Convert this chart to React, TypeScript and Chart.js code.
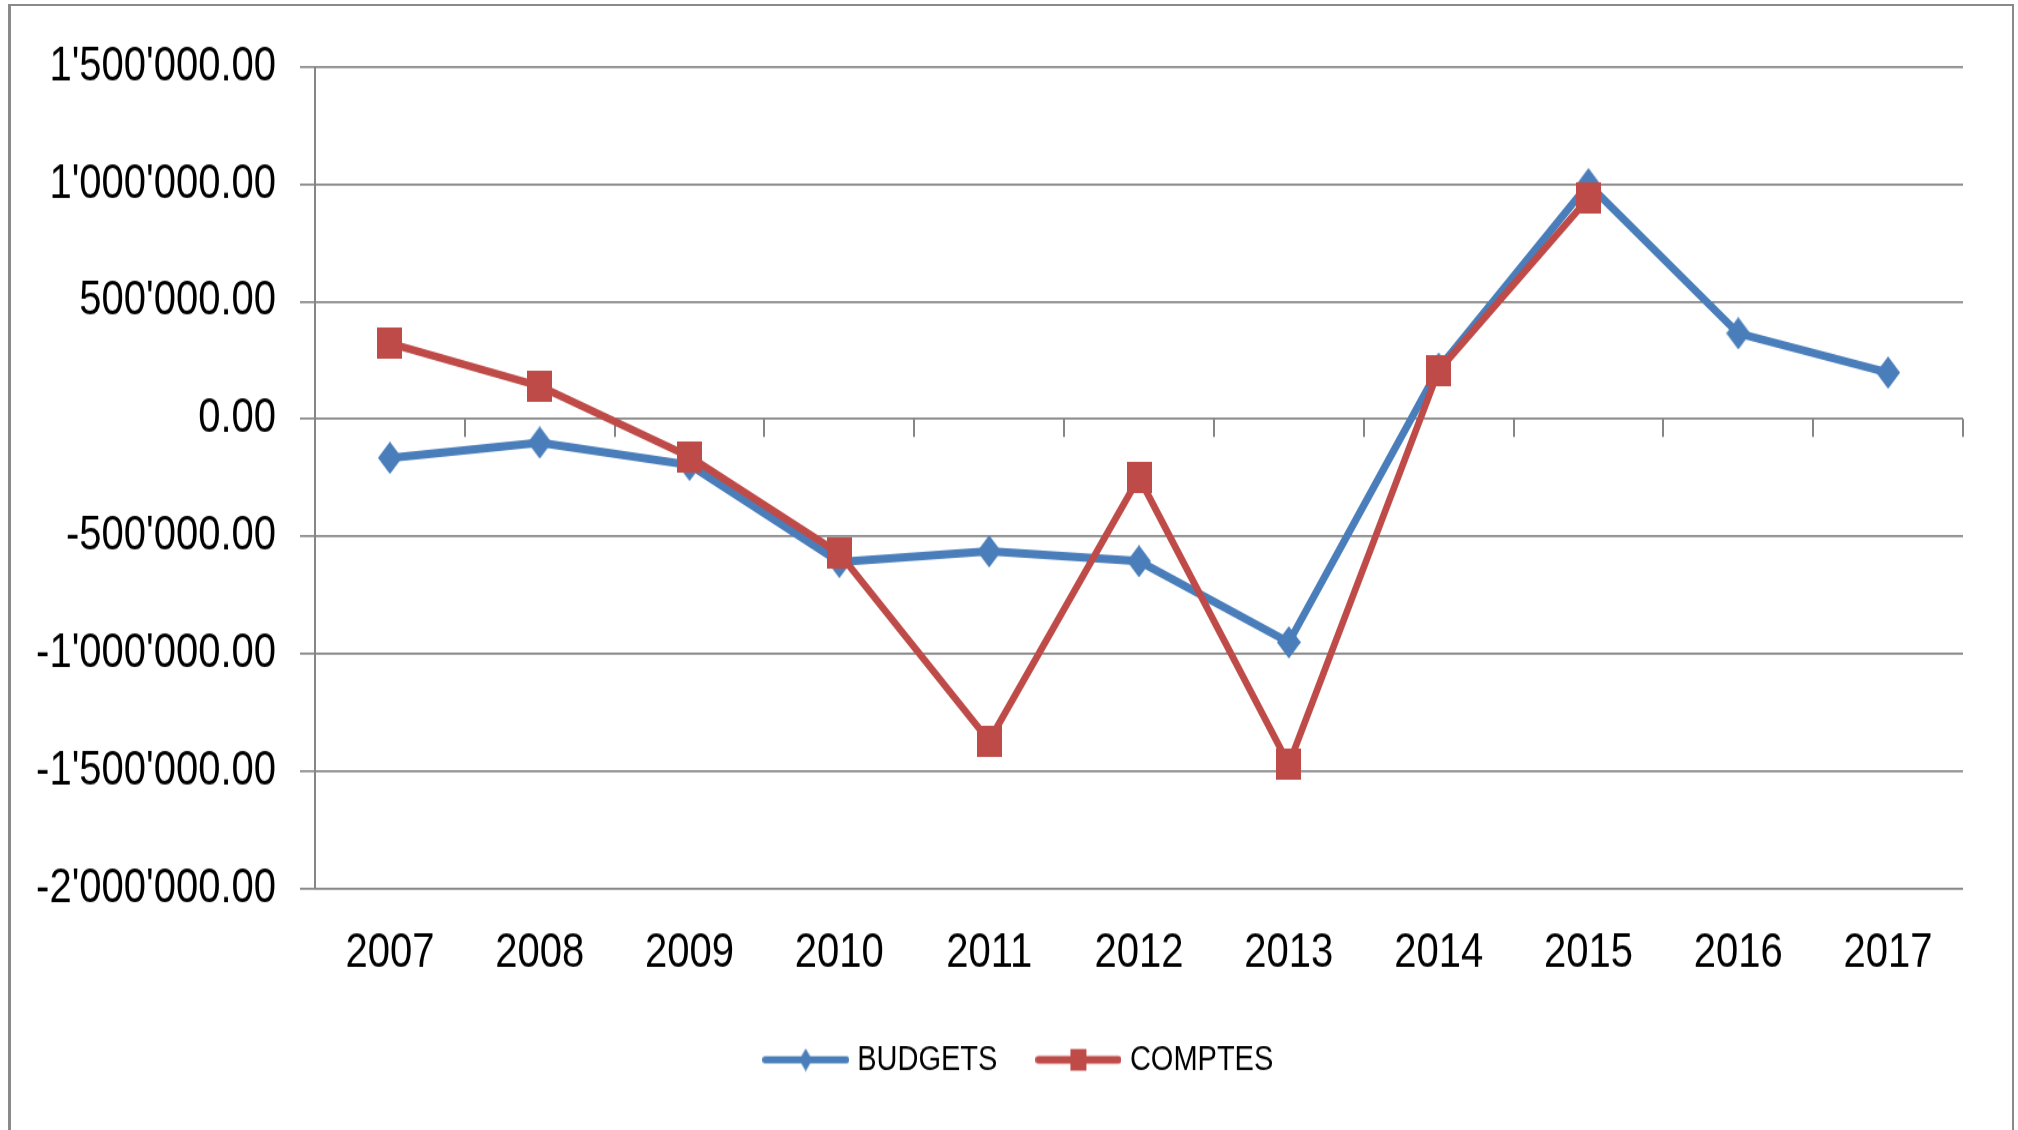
import React, { useEffect, useRef } from 'react';
import { Chart, registerables } from 'chart.js';

Chart.register(...registerables);

const years = ['2007', '2008', '2009', '2010', '2011', '2012', '2013', '2014', '2015', '2016', '2017'];
const budgets = [-165000, -100000, -195000, -608000, -563000, -605000, -950000, 215000, 1000000, 365000, 198000];
const comptes = [322000, 140000, -160000, -572000, -1370000, -248000, -1470000, 206000, 940000, null, null];
const seriesNames = ['BUDGETS', 'COMPTES'];
const yMin = -2000000;
const yMax = 1500000;
const yStep = 500000;

const BLUE = '#4a7ebb';
const RED = '#be4b48';
const GRID = '#868686';
const FONT = "'Liberation Sans', Arial, sans-serif";

// The reference picture is stretched vertically; the canvas is drawn at a
// reduced height and displayed stretched to the full page height.
const PAGE_W = 2018;
const PAGE_H = 1130;
const CANVAS_H = 942;

function fmt(v: number): string {
  const neg = v < 0;
  const s = Math.abs(v).toFixed(2);
  const [i, d] = s.split('.');
  const withSep = i.replace(/\B(?=(\d{3})+(?!\d))/g, "'");
  return (neg ? '-' : '') + withSep + '.' + d;
}

function makeSquare(w: number, h: number, color: string) {
  const c = document.createElement('canvas');
  c.width = w;
  c.height = h;
  const ctx = c.getContext('2d')!;
  ctx.fillStyle = color;
  ctx.fillRect(0, 0, w, h);
  return c;
}

function makeDiamond(w: number, h: number, color: string) {
  const c = document.createElement('canvas');
  c.width = w;
  c.height = h;
  const ctx = c.getContext('2d')!;
  ctx.fillStyle = color;
  ctx.beginPath();
  ctx.moveTo(w / 2, 0);
  ctx.lineTo(w, h / 2);
  ctx.lineTo(w / 2, h);
  ctx.lineTo(0, h / 2);
  ctx.closePath();
  ctx.fill();
  return c;
}

function makeLegendSample(totalW: number, h: number, lineW: number, color: string, marker: HTMLCanvasElement) {
  const c = document.createElement('canvas');
  c.width = totalW;
  c.height = h;
  const ctx = c.getContext('2d')!;
  ctx.strokeStyle = color;
  ctx.lineWidth = lineW;
  ctx.lineCap = 'round';
  ctx.beginPath();
  ctx.moveTo(lineW / 2, h / 2);
  ctx.lineTo(totalW - lineW / 2, h / 2);
  ctx.stroke();
  ctx.drawImage(marker, (totalW - marker.width) / 2, (h - marker.height) / 2);
  return c;
}

const zeroTicks = {
  id: 'zeroTicks',
  beforeDatasetsDraw(chart: any) {
    const x = chart.scales.x;
    const y = chart.scales.y;
    const ctx = chart.ctx;
    const n = years.length;
    const half = (x.getPixelForValue(1) - x.getPixelForValue(0)) / 2;
    const y0 = y.getPixelForValue(0);
    ctx.save();
    ctx.strokeStyle = GRID;
    ctx.lineWidth = 2;
    for (let i = 1; i <= n; i++) {
      const px = Math.round(x.getPixelForValue(i - 1) + half);
      ctx.beginPath();
      ctx.moveTo(px, y0);
      ctx.lineTo(px, y0 + 15);
      ctx.stroke();
    }
    ctx.restore();
  },
};

export default function App() {
  const ref = useRef<HTMLCanvasElement>(null);

  useEffect(() => {
    if (!ref.current) return;
    const sq = makeSquare(25, 26, RED);
    const dm = makeDiamond(24, 27, BLUE);
    const legSq = makeSquare(16, 18, RED);
    const legDm = makeDiamond(13, 19, BLUE);
    const legendImgs = [
      makeLegendSample(87, 22, 5.8, BLUE, legDm),
      makeLegendSample(86, 22, 6.5, RED, legSq),
    ];

    const chart = new Chart(ref.current, {
      type: 'line',
      data: {
        labels: years,
        datasets: [
          {
            label: seriesNames[0],
            data: budgets,
            borderColor: BLUE,
            backgroundColor: BLUE,
            borderWidth: 7,
            pointStyle: dm as any,
            pointRadius: 12,
            tension: 0,
            order: 2,
          },
          {
            label: seriesNames[1],
            data: comptes,
            borderColor: RED,
            backgroundColor: RED,
            borderWidth: 6.5,
            pointStyle: sq as any,
            pointRadius: 12,
            tension: 0,
            order: 1,
          },
        ],
      },
      plugins: [zeroTicks],
      options: {
        responsive: false,
        animation: false,
        devicePixelRatio: 1,
        layout: { padding: { left: 30, right: 6, top: 55.6, bottom: 34 } },
        plugins: {
          tooltip: { enabled: false },
          legend: {
            position: 'bottom',
            labels: {
              usePointStyle: true,
              pointStyleWidth: 74,
              padding: 44,
              color: '#000',
              font: { family: FONT, size: 29 },
              generateLabels: (ch: any) =>
                ch.data.datasets.map((ds: any, i: number) => ({
                  text: ds.label,
                  pointStyle: legendImgs[i],
                  fillStyle: ds.borderColor,
                  strokeStyle: ds.borderColor,
                  lineWidth: 0,
                  hidden: false,
                  datasetIndex: i,
                  fontColor: '#000',
                })),
            },
          },
        },
        scales: {
          x: {
            type: 'category',
            offset: true,
            grid: { display: false },
            border: { display: false },
            ticks: {
              color: '#000',
              font: { family: FONT, size: 40 },
              padding: 22,
              maxRotation: 0,
              autoSkip: false,
            },
            afterFit: (s: any) => {
              s.height = 84;
            },
          },
          y: {
            min: yMin,
            max: yMax,
            grid: { color: GRID, lineWidth: 1.7, tickLength: 15, drawTicks: true },
            border: { display: true, color: GRID, width: 2 },
            ticks: {
              stepSize: yStep,
              color: '#000',
              font: { family: FONT, size: 40 },
              padding: 24,
              callback: (v: any) => fmt(Number(v)),
            },
            afterFit: (s: any) => {
              s.width = 285;
            },
          },
          spacer: {
            type: 'linear',
            position: 'right',
            display: true,
            grid: { display: false },
            border: { display: false },
            ticks: { display: false },
            afterFit: (s: any) => {
              s.width = 49;
            },
          },
        },
      },
    });
    return () => chart.destroy();
  }, []);

  return (
    <div style={{ position: 'fixed', left: 0, top: 0, width: PAGE_W, height: PAGE_H, overflow: 'hidden', background: '#fff' }}>
      <div
        style={{
          position: 'absolute',
          left: 8,
          top: 4,
          width: 2006,
          height: 1160,
          boxSizing: 'border-box',
          borderTop: '2px solid #8a8a8a',
          borderRight: '2px solid #8a8a8a',
          borderLeft: '3px solid #8a8a8a',
        }}
      />
      <canvas
        ref={ref}
        width={PAGE_W}
        height={CANVAS_H}
        style={{ position: 'absolute', left: 0, top: 0, width: PAGE_W, height: PAGE_H, display: 'block' }}
      />
    </div>
  );
}
